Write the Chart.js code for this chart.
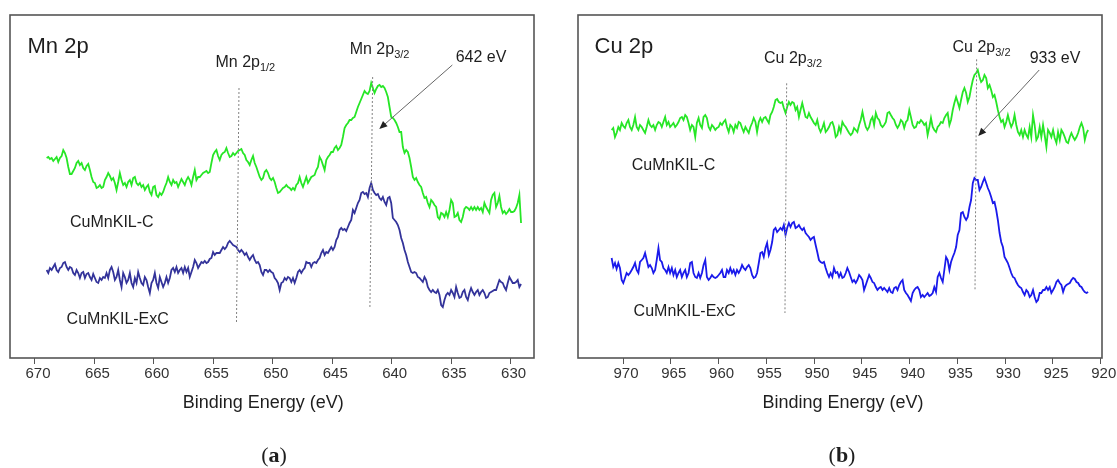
<!DOCTYPE html>
<html>
<head>
<meta charset="utf-8">
<title>XPS Mn 2p / Cu 2p</title>
<script src="https://cdn.jsdelivr.net/npm/chart.js"></script>
<style>
  body { margin: 0; background: #fff; }
  #wrap { position: relative; width: 1117px; height: 468px; overflow: hidden; }
  canvas { position: absolute; top: 0; }
  #mnChart { left: 0; }
  #cuChart { left: 558px; }
</style>
</head>
<body>
<div id="wrap">
  <canvas id="mnChart" width="558" height="468"></canvas>
  <canvas id="cuChart" width="559" height="468"></canvas>
</div>
<script>
// ---- (a) Mn 2p : binding energy (eV) and intensity (a.u.) ----
const mnEnergy = [
  669.02,668.88,668.74,668.60,668.46,668.32,668.18,668.04,667.90,667.76,
  667.62,667.48,667.34,667.20,667.06,666.92,666.78,666.64,666.50,666.36,
  666.22,666.08,665.94,665.80,665.66,665.52,665.38,665.24,665.10,664.96,
  664.82,664.68,664.54,664.40,664.26,664.12,663.98,663.84,663.70,663.56,
  663.42,663.28,663.14,663.00,662.86,662.72,662.58,662.44,662.30,662.16,
  662.02,661.88,661.74,661.60,661.46,661.32,661.18,661.04,660.90,660.76,
  660.62,660.48,660.34,660.20,660.06,659.92,659.78,659.64,659.50,659.36,
  659.22,659.08,658.94,658.80,658.66,658.52,658.38,658.24,658.10,657.96,
  657.82,657.68,657.54,657.40,657.26,657.12,656.98,656.84,656.70,656.56,
  656.42,656.28,656.14,656.00,655.86,655.72,655.58,655.44,655.30,655.16,
  655.02,654.88,654.74,654.60,654.46,654.32,654.18,654.04,653.90,653.76,
  653.62,653.48,653.34,653.20,653.06,652.92,652.78,652.64,652.50,652.36,
  652.22,652.08,651.94,651.80,651.66,651.52,651.38,651.24,651.10,650.96,
  650.82,650.68,650.54,650.40,650.26,650.12,649.98,649.84,649.70,649.56,
  649.42,649.28,649.14,649.00,648.86,648.72,648.58,648.44,648.30,648.16,
  648.02,647.88,647.74,647.60,647.46,647.32,647.18,647.04,646.90,646.76,
  646.62,646.48,646.34,646.20,646.06,645.92,645.78,645.64,645.50,645.36,
  645.22,645.08,644.94,644.80,644.66,644.52,644.38,644.24,644.10,643.96,
  643.82,643.68,643.54,643.40,643.26,643.12,642.98,642.84,642.70,642.56,
  642.42,642.28,642.14,642.00,641.86,641.72,641.58,641.44,641.30,641.16,
  641.02,640.88,640.74,640.60,640.46,640.32,640.18,640.04,639.90,639.76,
  639.62,639.48,639.34,639.20,639.06,638.92,638.78,638.64,638.50,638.36,
  638.22,638.08,637.94,637.80,637.66,637.52,637.38,637.24,637.10,636.96,
  636.82,636.68,636.54,636.40,636.26,636.12,635.98,635.84,635.70,635.56,
  635.42,635.28,635.14,635.00,634.86,634.72,634.58,634.44,634.30,634.16,
  634.02,633.88,633.74,633.60,633.46,633.32,633.18,633.04,632.90,632.76,
  632.62,632.48,632.34,632.20,632.06,631.92,631.78,631.64,631.50,631.36,
  631.22,631.08,630.94,630.80,630.66,630.52,630.38,630.24,630.10,629.96,
  629.82,629.68,629.54,629.40,629.26,629.12
];
const mnCalcined = [
  200,201,199,200,197,199,201,196,200,202,
  208,205,200,191,184,184,187,190,195,197,
  193,195,190,188,192,194,188,181,176,175,
  170,171,173,170,171,178,181,185,182,178,
  180,175,168,176,185,178,173,175,171,176,
  178,173,180,181,175,173,175,171,173,168,
  171,173,166,163,171,172,163,161,165,163,
  166,171,175,181,176,173,178,175,176,171,
  175,179,176,173,178,181,178,173,181,188,
  178,181,181,183,185,186,187,185,186,195,
  203,206,208,202,198,203,205,206,210,205,
  201,202,205,203,205,207,208,209,205,203,
  198,196,193,198,202,195,191,186,181,178,
  180,
  186,188,185,180,178,180,176,170,165,166,
  168,170,171,173,171,170,168,170,168,173,
  175,181,175,171,176,181,175,178,181,182,
  183,188,191,201,198,193,188,198,201,203,
  206,206,210,212,208,210,213,221,230,233,
  235,238,238,240,241,246,251,255,259,263,
  267,265,264,267,275,270,265,269,272,273,
  271,272,270,266,261,251,241,240,238,235,
  231,226,226,211,205,208,206,200,191,181,
  178,180,176,173,171,165,160,161,155,151,
  158,156,153,151,141,139,145,144,141,146,
  141,148,158,155,141,142,145,138,136,141,
  149,151,150,148,151,148,151,148,151,148,
  150,146,155,151,148,145,158,163,165,
  151,155,162,151,145,147,144,146,149,146,146,147,150,155,163,135
];
const mnExCalcined = [
  88,85,90,88,91,94,88,86,90,91,
  95,96,91,88,91,90,85,83,88,85,
  80,85,86,80,84,85,81,78,84,80,
  76,75,80,78,81,80,85,80,88,91,
  86,78,81,88,78,71,85,81,75,78,
  85,75,71,80,75,86,80,75,73,81,
  78,71,65,75,78,85,75,70,81,76,
  71,75,81,75,80,88,90,86,91,85,
  88,90,85,91,86,90,81,86,91,98,
  95,90,93,96,95,97,95,96,99,100,
  106,103,105,105,105,108,111,109,111,115,
  117,115,113,112,111,108,106,108,106,103,
  105,101,98,101,103,98,95,96,93,86,
  83,
  88,88,86,88,86,85,80,78,75,68,
  75,76,80,78,81,80,76,80,75,80,
  86,88,85,88,90,96,95,95,91,95,
  96,95,98,100,105,108,103,106,105,108,
  111,108,111,118,121,128,130,128,129,127,
  131,135,138,148,145,150,155,158,165,166,
  164,165,161,170,175,168,165,163,164,160,
  158,161,156,153,160,161,155,140,138,136,
  133,128,120,115,108,103,96,91,86,85,
  86,85,81,80,78,76,81,78,71,68,
  66,68,66,65,68,63,53,51,58,63,
  65,63,68,65,61,71,65,60,61,66,
  68,61,58,65,70,66,63,66,68,63,
  66,68,65,60,61,65,66,67,68,
  68,73,78,76,75,71,68,75,81,78,75,75,76,78,71,74
];
const mnTicks = [670, 665, 660, 655, 650, 645, 640, 635, 630];

// ---- (b) Cu 2p ----
const cuEnergy = [
  971.19,971.02,970.84,970.67,970.49,970.32,970.14,969.97,
  969.79,969.62,969.44,969.27,969.09,968.92,968.74,968.57,
  968.39,968.22,968.04,967.87,967.69,967.52,967.34,967.17,
  966.99,966.82,966.64,966.47,966.29,966.12,965.94,965.77,
  965.59,965.42,965.24,965.07,964.89,964.72,964.54,964.37,
  964.19,964.02,963.84,963.67,963.49,963.32,963.14,962.97,
  962.79,962.62,962.44,962.27,962.09,961.92,961.74,961.57,
  961.39,961.22,961.04,960.87,960.69,960.52,960.34,960.17,
  959.99,959.82,959.64,959.47,959.29,959.12,958.94,958.77,
  958.59,958.42,958.24,958.07,957.89,957.72,957.54,957.37,
  957.19,957.02,956.84,956.67,956.49,956.32,956.14,955.97,
  955.79,955.62,955.44,955.27,955.09,954.92,954.74,954.57,
  954.39,954.22,954.04,953.87,953.69,953.52,953.34,953.17,
  952.99,952.82,952.64,952.47,952.29,952.12,951.94,951.77,
  951.59,951.42,951.24,951.07,950.89,950.72,950.54,950.37,
  950.19,950.02,949.84,949.67,949.49,949.32,949.14,948.97,
  948.79,948.62,948.44,948.27,948.09,947.92,947.74,947.57,
  947.39,947.22,947.04,946.87,946.69,946.52,946.34,946.17,
  945.99,945.82,945.64,945.47,945.29,945.12,944.94,944.77,
  944.59,944.42,944.24,944.07,943.89,943.72,943.54,943.37,
  943.19,943.02,942.84,942.67,942.49,942.32,942.14,941.97,
  941.79,941.62,941.44,941.27,941.09,940.92,940.74,940.57,
  940.39,940.22,940.04,939.87,939.69,939.52,939.34,939.17,
  938.99,938.82,938.64,938.47,938.29,938.12,937.94,937.77,
  937.59,937.42,937.24,937.07,936.89,936.72,936.54,936.37,
  936.19,936.02,935.84,935.67,935.49,935.32,935.14,934.97,
  934.79,934.62,934.44,934.27,934.09,933.92,933.74,933.57,
  933.39,933.22,933.04,932.87,932.69,932.52,932.34,932.17,
  931.99,931.82,931.64,931.47,931.29,931.12,930.94,930.77,
  930.59,930.42,930.24,930.07,929.89,929.72,929.54,929.37,
  929.19,929.02,928.84,928.67,928.49,928.32,928.14,927.97,
  927.79,927.62,927.44,927.27,927.09,926.92,926.74,926.57,
  926.39,926.22,926.04,925.87,925.69,925.52,925.34,925.17,
  924.99,924.82,924.64,924.47,924.29,924.12,923.94,923.77,
  923.59,923.42,923.24,923.07,922.89,922.72,922.54,922.37,
  922.19,922.02,921.84,921.67,921.49,921.32
];
const cuCalcined = [
  228,230,221,225,231,228,235,232,230,235,
  238,231,228,233,241,231,228,233,231,228,
  225,231,238,233,231,233,228,233,236,235,
  231,236,241,233,236,231,233,235,231,233,
  236,240,241,238,243,241,235,228,233,231,
  221,235,240,233,230,241,243,240,231,228,
  233,231,228,230,231,235,233,236,238,231,
  226,233,231,226,233,230,236,235,230,226,
  231,228,225,231,235,240,236,226,236,240,
  236,240,241,238,235,243,246,251,258,259,
  256,255,256,250,245,251,256,253,256,255,
  248,251,241,248,255,248,241,240,245,241,
  238,235,233,238,230,226,230,235,226,228,
  231,
  235,236,231,221,223,231,226,236,233,231,
  228,225,223,225,230,228,226,233,238,246,
  238,231,228,231,238,241,233,245,240,238,
  233,231,233,236,245,246,243,240,238,233,
  230,233,238,236,230,236,238,248,241,233,
  230,231,236,235,238,236,233,235,223,231,
  240,231,228,226,231,233,236,235,240,243,
  245,233,238,248,255,261,256,250,258,266,
  270,265,256,261,270,278,283,285,288,281,
  276,278,283,280,270,273,268,261,263,256,
  248,241,236,238,231,236,243,236,231,235,
  243,233,226,223,228,221,228,223,220,231,
  221,243,233,218,221,231,221,233,223,211,
  228,225,221,228,220,215,226,218,228,
  225,221,216,215,221,225,221,218,221,225,231,235,230,218,225,228
];
const cuExCalcined = [
  100,91,95,89,95,90,78,75,80,85,
  83,85,88,91,95,88,85,96,98,100,
  105,98,91,93,90,85,88,98,110,98,
  96,90,88,85,91,85,90,83,88,81,
  85,88,81,85,88,81,85,95,96,85,
  81,80,85,80,85,93,98,81,78,80,
  83,81,80,81,83,85,88,81,81,88,
  85,90,85,88,83,88,85,88,93,90,
  88,91,93,90,83,80,81,85,95,105,
  106,101,110,115,103,108,116,128,130,126,
  128,130,128,133,123,130,135,131,135,136,
  130,131,133,130,128,130,125,123,121,118,
  120,121,113,106,98,96,95,96,90,85,
  81,
  85,81,90,85,86,81,85,80,81,85,
  90,86,81,76,78,75,78,83,81,78,
  68,73,78,83,80,76,75,71,68,70,
  71,68,70,68,66,70,66,65,70,71,
  68,73,76,78,68,65,63,60,57,65,
  68,70,71,68,61,63,61,63,65,62,
  63,65,71,66,81,85,80,76,88,101,
  98,88,96,101,105,111,123,128,145,146,
  141,138,141,151,158,175,180,178,178,168,
  171,176,180,175,170,166,161,155,156,148,
  138,125,116,111,101,98,95,90,85,81,
  80,76,73,71,70,66,63,68,66,61,
  63,68,61,56,58,65,65,68,68,71,
  68,71,65,68,71,76,78,75,73,
  66,71,73,74,75,78,80,79,76,75,72,71,68,66,65,66
];
const cuTicks = [970, 965, 960, 955, 950, 945, 940, 935, 930, 925, 920];

const FONT = '"Liberation Sans", Arial, Helvetica, sans-serif';
Chart.defaults.font.family = FONT;

// peak guides, arrow and labels, placed in data units (eV, a.u.)
const mnNotes = {
  guides: [
    { top: [652.84, 270], bottom: [653.05, 36] },
    { top: [641.60, 281], bottom: [641.83, 51] }
  ],
  arrow: { from: [634.90, 293], to: [641.04, 229] },
  texts: [
    { text: 'Mn 2p', at: [670.63, 305], size: 22 },
    { text: 'Mn 2p', sub: '1/2', at: [654.82, 291.5], size: 16 },
    { text: 'Mn 2p', sub: '3/2', at: [643.53, 303.7], size: 16 },
    { text: '642 eV', at: [634.62, 296.3], size: 16 },
    { text: 'CuMnKIL-C', at: [667.05, 131.3], size: 16 },
    { text: 'CuMnKIL-ExC', at: [667.34, 33.7], size: 16 },
    { text: 'Binding Energy (eV)', at: [650.80, -50], size: 18, align: 'center' }
  ],
  caption: { letter: 'a', at: [649.9, -104] }
};
const cuNotes = {
  guides: [
    { top: [952.87, 274.7], bottom: [953.05, 45] },
    { top: [932.99, 298.7], bottom: [933.16, 68] }
  ],
  arrow: { from: [926.44, 288], to: [932.82, 222] },
  texts: [
    { text: 'Cu 2p', at: [972.98, 305.3], size: 22 },
    { text: 'Cu 2p', sub: '3/2', at: [955.24, 294.7], size: 16 },
    { text: 'Cu 2p', sub: '3/2', at: [935.51, 306.3], size: 16 },
    { text: '933 eV', at: [927.44, 295.3], size: 16 },
    { text: 'CuMnKIL-C', at: [969.08, 188], size: 16 },
    { text: 'CuMnKIL-ExC', at: [968.89, 42], size: 16 },
    { text: 'Binding Energy (eV)', at: [946.98, -50], size: 18, align: 'center' }
  ],
  caption: { letter: 'b', at: [947.08, -104] }
};

function notesPlugin(notes) {
  return {
    id: 'notes',
    afterDatasetsDraw(chart) {
      const ctx = chart.ctx, a = chart.chartArea;
      const px = e => chart.scales.x.getPixelForValue(e);
      const py = v => chart.scales.y.getPixelForValue(v);
      ctx.save();
      // frame
      ctx.strokeStyle = '#555';
      ctx.lineWidth = 1.6;
      ctx.strokeRect(a.left, a.top, a.right - a.left, a.bottom - a.top);
      // dotted peak guides
      ctx.strokeStyle = '#808080';
      ctx.lineWidth = 1;
      ctx.setLineDash([2, 2]);
      notes.guides.forEach(g => {
        ctx.beginPath();
        ctx.moveTo(px(g.top[0]), py(g.top[1]));
        ctx.lineTo(px(g.bottom[0]), py(g.bottom[1]));
        ctx.stroke();
      });
      ctx.setLineDash([]);
      // arrow
      const x1 = px(notes.arrow.from[0]), y1 = py(notes.arrow.from[1]);
      const x2 = px(notes.arrow.to[0]), y2 = py(notes.arrow.to[1]);
      const ang = Math.atan2(y2 - y1, x2 - x1);
      ctx.strokeStyle = '#666';
      ctx.beginPath();
      ctx.moveTo(x1, y1);
      ctx.lineTo(x2 - 5 * Math.cos(ang), y2 - 5 * Math.sin(ang));
      ctx.stroke();
      ctx.fillStyle = '#222';
      ctx.beginPath();
      ctx.moveTo(x2, y2);
      ctx.lineTo(x2 - 8 * Math.cos(ang) + 3.5 * Math.sin(ang), y2 - 8 * Math.sin(ang) - 3.5 * Math.cos(ang));
      ctx.lineTo(x2 - 8 * Math.cos(ang) - 3.5 * Math.sin(ang), y2 - 8 * Math.sin(ang) + 3.5 * Math.cos(ang));
      ctx.closePath();
      ctx.fill();
      // texts
      ctx.fillStyle = '#1e1e1e';
      ctx.textBaseline = 'alphabetic';
      notes.texts.forEach(t => {
        const x = px(t.at[0]), y = py(t.at[1]);
        ctx.font = t.size + 'px ' + FONT;
        ctx.textAlign = t.align || 'left';
        ctx.fillText(t.text, x, y);
        if (t.sub) {
          const w = ctx.measureText(t.text).width;
          ctx.font = Math.round(t.size * 0.7) + 'px ' + FONT;
          ctx.textAlign = 'left';
          ctx.fillText(t.sub, x + w, y + 4);
        }
      });
      // panel caption "(a)" / "(b)" with bold letter
      const cx = px(notes.caption.at[0]), cy = py(notes.caption.at[1]);
      const reg = '22px "Liberation Serif", "Times New Roman", serif';
      const bold = 'bold 22px "Liberation Serif", "Times New Roman", serif';
      ctx.textAlign = 'left';
      ctx.font = reg; const wp = ctx.measureText('(').width, wq = ctx.measureText(')').width;
      ctx.font = bold; const wl = ctx.measureText(notes.caption.letter).width;
      let sx = cx - (wp + wl + wq) / 2;
      ctx.font = reg; ctx.fillText('(', sx, cy); sx += wp;
      ctx.font = bold; ctx.fillText(notes.caption.letter, sx, cy); sx += wl;
      ctx.font = reg; ctx.fillText(')', sx, cy);
      ctx.restore();
    }
  };
}

function drawPanel(id, energy, calcined, exCalcined, exColor, ticks, xMin, xMax, padLeft, padRight, notes) {
  const ctx = document.getElementById(id).getContext('2d');
  return new Chart(ctx, {
    type: 'line',
    data: {
      labels: energy,
      datasets: [
        { label: 'CuMnKIL-C', data: calcined, borderColor: '#26e626', borderWidth: 1.8,
          pointRadius: 0, tension: 0, fill: false },
        { label: 'CuMnKIL-ExC', data: exCalcined, borderColor: exColor, borderWidth: 1.8,
          pointRadius: 0, tension: 0, fill: false }
      ]
    },
    options: {
      responsive: false,
      animation: false,
      devicePixelRatio: 1,
      layout: { padding: { left: padLeft, right: padRight, top: 15, bottom: 0 } },
      plugins: { legend: { display: false }, tooltip: { enabled: false } },
      scales: {
        x: {
          type: 'linear',
          reverse: true,
          min: xMin,
          max: xMax,
          afterBuildTicks: s => { s.ticks = ticks.map(v => ({ value: v })); },
          afterFit: s => { s.height = 110; s.paddingLeft = 0; s.paddingRight = 0; },
          ticks: { autoSkip: false, maxRotation: 0, padding: 1, labelOffset: 3,
                   color: '#333', font: { size: 15 } },
          grid: { drawOnChartArea: false, drawTicks: true, tickLength: 6, color: '#555' },
          border: { display: false }
        },
        y: { display: false, min: 0, max: 343 }
      }
    },
    plugins: [notesPlugin(notes)]
  });
}

drawPanel('mnChart', mnEnergy, mnCalcined, mnExCalcined, '#33339a', mnTicks, 628.03, 672.1, 10, 24, mnNotes);
drawPanel('cuChart', cuEnergy, cuCalcined, cuExCalcined, '#1a1aeb', cuTicks, 919.87, 974.71, 20, 15, cuNotes);
</script>
</body>
</html>
